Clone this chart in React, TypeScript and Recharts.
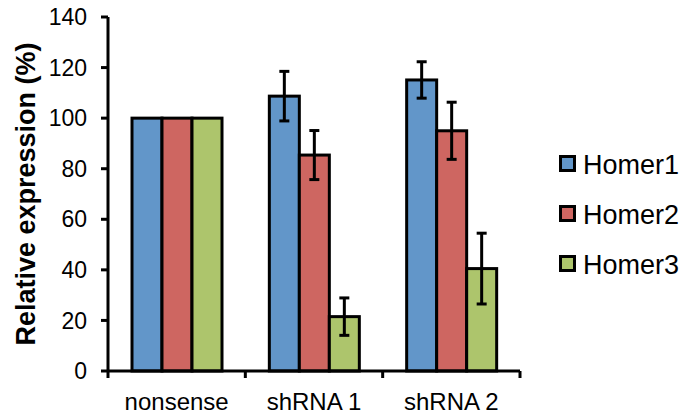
import { BarChart, Bar, XAxis, YAxis, ErrorBar, Label } from 'recharts'

const GROUPS = ['nonsense', 'shRNA 1', 'shRNA 2']
const HOMER1 = [100, 108.7, 115.1]
const HOMER2 = [100, 85.4, 95]
const HOMER3 = [100, 21.5, 40.5]
const HOMER1_ERR = [0, 9.8, 7.2]
const HOMER2_ERR = [0, 9.7, 11.3]
const HOMER3_ERR = [0, 7.4, 14]
const Y_TICKS = [0, 20, 40, 60, 80, 100, 120, 140]

const SERIES = [
  { key: 'Homer1', color: '#6296C9' },
  { key: 'Homer2', color: '#CE6661' },
  { key: 'Homer3', color: '#ADC56C' },
]

const data = GROUPS.map((name, i) => ({
  name,
  Homer1: HOMER1[i],
  Homer2: HOMER2[i],
  Homer3: HOMER3[i],
  Homer1Err: HOMER1_ERR[i],
  Homer2Err: HOMER2_ERR[i],
  Homer3Err: HOMER3_ERR[i],
}))

const FONT = '"Liberation Sans", Arial, sans-serif'

// layout (chart coords, chart sits at the body's 8px margin)
const W = 678
const H = 408
const MARGIN = { top: 9, right: 166, bottom: 0, left: 40 }
const Y_W = 60
const X_H = 45
const PLOT_W = W - MARGIN.left - Y_W - MARGIN.right
const PLOT_BOTTOM = H - MARGIN.bottom - X_H
const BAND = PLOT_W / GROUPS.length

function GroupTick(props: any) {
  const { x, payload, index } = props
  const last = index === GROUPS.length - 1
  return (
    <g>
      <line x1={x - BAND / 2} x2={x - BAND / 2} y1={PLOT_BOTTOM} y2={PLOT_BOTTOM + 7} stroke="#000" strokeWidth={3} />
      {last && (
        <line x1={x + BAND / 2} x2={x + BAND / 2} y1={PLOT_BOTTOM} y2={PLOT_BOTTOM + 7} stroke="#000" strokeWidth={3} />
      )}
      <text x={x} y={PLOT_BOTTOM + 39} textAnchor="middle" fill="#000" fontSize={24} fontFamily={FONT}>
        {payload.value}
      </text>
    </g>
  )
}

function YTick(props: any) {
  const { x, y, payload } = props
  return (
    <text x={x} y={y} dy="0.355em" textAnchor="end" fill="#000" fontSize={23} fontFamily={FONT}>
      {payload.value}
    </text>
  )
}

function BorderedBar(props: any) {
  const { x, y, width, height, fill } = props
  if (!height || height <= 0) return null
  return <rect x={x} y={y} width={width} height={height} fill={fill} stroke="#000" strokeWidth={3} />
}

export default function App() {
  return (
    <div>
      <BarChart width={W} height={H} data={data} margin={MARGIN} barGap={0} barSize={30}>
        <XAxis
          dataKey="name"
          height={X_H}
          stroke="#000"
          strokeWidth={3}
          tickLine={false}
          interval={0}
          tick={<GroupTick />}
        />
        <YAxis
          width={Y_W}
          domain={[0, 140]}
          ticks={Y_TICKS}
          stroke="#000"
          strokeWidth={3}
          tickSize={7}
          tickMargin={14}
          tick={<YTick />}
        >
          <Label
            value="Relative expression (%)"
            angle={-90}
            position="center"
            dx={-53}
            style={{ fill: '#000', fontSize: 27, fontWeight: 'bold', fontFamily: FONT }}
          />
        </YAxis>
        {SERIES.map((s) => (
          <Bar
            key={s.key}
            dataKey={s.key}
            fill={s.color}
            shape={<BorderedBar />}
            isAnimationActive={false}
          >
            <ErrorBar dataKey={`${s.key}Err`} width={5} stroke="#000" strokeWidth={3} />
          </Bar>
        ))}
      </BarChart>
      <div style={{ position: 'absolute', left: 559, top: 140, fontFamily: FONT }}>
        {SERIES.map((s) => (
          <div key={s.key} style={{ display: 'flex', alignItems: 'center', height: 50 }}>
            <div
              style={{
                width: 11,
                height: 11,
                border: '3px solid #000',
                background: s.color,
                marginRight: 7,
                marginTop: -4,
              }}
            />
            <span style={{ fontSize: 27, color: '#000', lineHeight: '50px' }}>{s.key}</span>
          </div>
        ))}
      </div>
    </div>
  )
}
